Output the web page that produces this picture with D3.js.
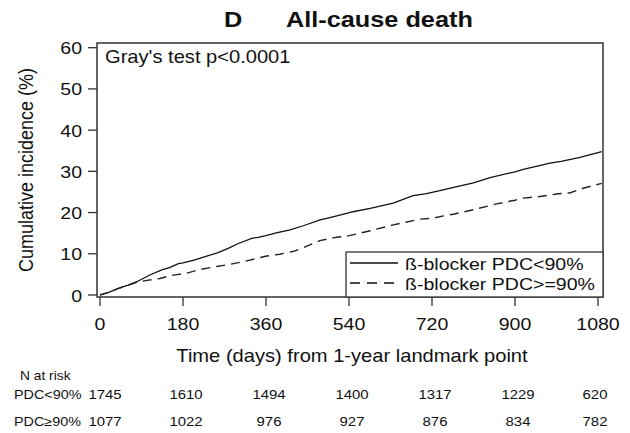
<!DOCTYPE html>
<html>
<head>
<meta charset="utf-8">
<script src="https://cdn.jsdelivr.net/npm/d3@7"></script>
<style>
  html, body { margin: 0; padding: 0; background: #fff; }
  svg { display: block; font-family: "Liberation Sans", Arial, Helvetica, sans-serif; }
</style>
</head>
<body>
<svg id="chart" width="630" height="433"></svg>
<script>
// ---------------- data ----------------
const xTicks = [0, 180, 360, 540, 720, 900, 1080];
const yTicks = [0, 10, 20, 30, 40, 50, 60];

const seriesNames = ["ß-blocker PDC<90%", "ß-blocker PDC>=90%"];

const lowTime = [0,20,40,61,83,108,134,152,170,180,206,228,256,278,300,329,343,360,380,412,441,477,492,520,549,586,636,679,708,737,781,810,846,900,918,976,1000,1041,1088];
const lowInc  = [0,0.7,1.6,2.4,3.4,4.85,6.1,6.7,7.6,7.8,8.5,9.3,10.3,11.3,12.5,13.75,14.0,14.4,15.0,15.8,16.8,18.2,18.6,19.4,20.2,21.0,22.3,24.1,24.6,25.3,26.5,27.2,28.5,29.9,30.5,32.0,32.4,33.4,34.8];

const highTime = [0,20,40,61,83,105,130,152,170,188,217,253,280,311,359,390,420,441,477,513,541,586,636,694,721,745,766,810,860,900,918,954,990,1020,1048,1088];
const highInc  = [0,0.7,1.6,2.4,3.2,3.6,4.0,4.7,5.0,5.3,6.2,6.9,7.4,8.1,9.4,9.9,10.6,11.5,13.2,14.0,14.4,15.6,17.0,18.4,18.6,19.2,19.6,20.7,22.1,23.0,23.5,23.9,24.5,24.8,25.9,27.1];

const riskRowLabels = ["PDC<90%", "PDC\u226590%"];
const riskLow  = [1745, 1610, 1494, 1400, 1317, 1229, 620];
const riskHigh = [1077, 1022, 976, 927, 876, 834, 782];

const titleLetter = "D";
const titleText = "All-cause death";
const testText = "Gray's test p<0.0001";
const xLabel = "Time (days) from 1-year landmark point";
const yLabel = "Cumulative incidence (%)";
const riskHeader = "N at risk";

// ---------------- layout ----------------
const box = { left: 97, right: 603, top: 43, bottom: 297 };
const SX = 1.15; // horizontal stretch of the original picture's text
const ink = "#111";

const svg = d3.select("#chart");

const x = d3.scaleLinear().domain([0, 1080]).range([100, 598]);
const y = d3.scaleLinear().domain([0, 60]).range([295, 47.7]);

function stretchedText(g, px, py, str, opts) {
  const t = g.append("text")
    .attr("transform", `translate(${px},${py}) scale(${SX},1)`)
    .attr("fill", ink)
    .attr("font-size", opts.size)
    .attr("text-anchor", opts.anchor || "start")
    .text(str);
  if (opts.weight) t.attr("font-weight", opts.weight);
  return t;
}

// title
stretchedText(svg, 224, 27, titleLetter, { size: 22, weight: "bold" });
stretchedText(svg, 286, 27, titleText, { size: 22, weight: "bold" });

// plot box
svg.append("rect")
  .attr("x", box.left).attr("y", box.top)
  .attr("width", box.right - box.left).attr("height", box.bottom - box.top)
  .attr("fill", "none").attr("stroke", "#333").attr("stroke-width", 1.5);

// y axis ticks + labels
const yAxis = svg.append("g");
yTicks.forEach(v => {
  yAxis.append("line")
    .attr("x1", box.left - 9).attr("x2", box.left)
    .attr("y1", y(v)).attr("y2", y(v))
    .attr("stroke", "#333").attr("stroke-width", 1.3);
  stretchedText(yAxis, 82, y(v) + 6.5, String(v), { size: 17, anchor: "end" });
});

// x axis ticks + labels
const xAxis = svg.append("g");
xTicks.forEach(v => {
  xAxis.append("line")
    .attr("x1", x(v)).attr("x2", x(v))
    .attr("y1", box.bottom).attr("y2", box.bottom + 9)
    .attr("stroke", "#333").attr("stroke-width", 1.3);
  stretchedText(xAxis, x(v), 330, String(v), { size: 17, anchor: "middle" });
});

// axis titles
stretchedText(svg, 352, 362, xLabel, { size: 17.5, anchor: "middle" });
svg.append("text")
  .attr("transform", `translate(33,170) rotate(-90) scale(1,${SX})`)
  .attr("fill", ink).attr("font-size", 18).attr("text-anchor", "middle")
  .text(yLabel);

// Gray's test
stretchedText(svg, 105, 63, testText, { size: 17.5 });

// curves
const line = d3.line().x(d => x(d[0])).y(d => y(d[1]));
const lowData = lowTime.map((t, i) => [t, lowInc[i]]);
const highData = highTime.map((t, i) => [t, highInc[i]]);

svg.append("path").datum(lowData)
  .attr("d", line).attr("fill", "none")
  .attr("stroke", "#111").attr("stroke-width", 1.3);
svg.append("path").datum(highData)
  .attr("d", line).attr("fill", "none")
  .attr("stroke", "#222").attr("stroke-width", 1.4)
  .attr("stroke-dasharray", "9,6");

// legend
const legend = { left: 346, top: 252 };
svg.append("rect")
  .attr("x", legend.left).attr("y", legend.top)
  .attr("width", box.right - legend.left).attr("height", box.bottom - legend.top)
  .attr("fill", "#fff").attr("stroke", "#333").attr("stroke-width", 1.3);
const legRows = [263, 283];
seriesNames.forEach((name, i) => {
  svg.append("line")
    .attr("x1", 350).attr("x2", 398)
    .attr("y1", legRows[i]).attr("y2", legRows[i])
    .attr("stroke", "#111").attr("stroke-width", 1.3)
    .attr("stroke-dasharray", i === 0 ? null : "10,7");
  stretchedText(svg, 405, legRows[i] + 6.5, name, { size: 17 });
});

// number at risk table
stretchedText(svg, 20, 380, riskHeader, { size: 12 });
const riskRows = [riskLow, riskHigh];
const rowY = [399, 426];
riskRows.forEach((row, r) => {
  stretchedText(svg, 14, rowY[r], riskRowLabels[r], { size: 12.5 });
  row.forEach((n, i) => {
    stretchedText(svg, x(xTicks[i]) + (i === 0 ? 5 : i === xTicks.length - 1 ? -3 : 3), rowY[r], String(n), { size: 13, anchor: "middle" });
  });
});
</script>
</body>
</html>
